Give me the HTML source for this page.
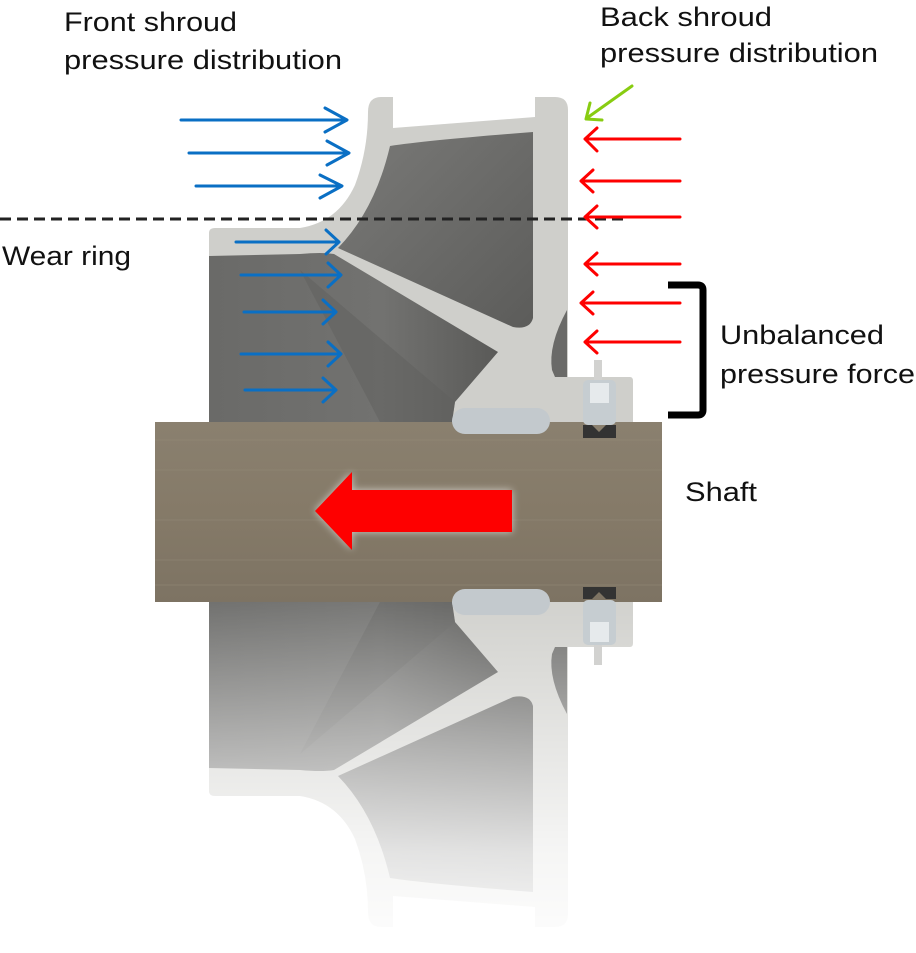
<!DOCTYPE html>
<html><head><meta charset="utf-8"><style>
html,body{margin:0;padding:0;background:#fff;}
svg{display:block;}
text{font-family:"Liberation Sans",Arial,sans-serif;font-size:27px;fill:#111;}
</style></head><body>
<svg width="916" height="953" viewBox="0 0 916 953" xmlns="http://www.w3.org/2000/svg">
<defs>
<linearGradient id="dk" x1="0" y1="0" x2="1" y2="1">
<stop offset="0" stop-color="#7a7a78"/><stop offset="1" stop-color="#5c5c5a"/></linearGradient>
<linearGradient id="dk2" x1="0" y1="0" x2="1" y2="0">
<stop offset="0" stop-color="#6a6a68"/><stop offset="0.6" stop-color="#727270"/><stop offset="1" stop-color="#5a5a58"/></linearGradient>
<linearGradient id="shaft" x1="0" y1="0" x2="0" y2="1">
<stop offset="0" stop-color="#8a806f"/><stop offset="0.5" stop-color="#857a68"/><stop offset="1" stop-color="#7d7363"/></linearGradient>
<linearGradient id="fade" x1="0" y1="602" x2="0" y2="935" gradientUnits="userSpaceOnUse">
<stop offset="0" stop-color="#fff" stop-opacity="0.95"/><stop offset="0.35" stop-color="#fff" stop-opacity="0.6"/><stop offset="0.75" stop-color="#fff" stop-opacity="0.2"/><stop offset="1" stop-color="#fff" stop-opacity="0.06"/></linearGradient>
<mask id="m"><rect x="0" y="590" width="916" height="363" fill="url(#fade)"/></mask>
<filter id="glow" x="-20%" y="-50%" width="140%" height="200%"><feGaussianBlur stdDeviation="4"/></filter>
<g id="imp">
<path d="M209,422 L209,233 Q209,228 215,228 L300,228 Q338,222 355,185 Q368,150 368,112 Q368,97 381,97 L393,97 L393,128 L535,117 L535,97 L555,97 Q568,97 568,110 L568,377 L630,377 Q633,377 633,381 L633,422 Z" fill="#cfcfcb"/>
<path d="M390,146 Q430,140 533,132 L533,318 Q530,330 513,327 L338,248 Q375,210 390,146 Z" fill="url(#dk)"/>
<path d="M209,256 L300,254 Q322,252 334,254 L498,352 L455,402 L452,422 L209,422 Z" fill="url(#dk2)"/>
<path d="M300,270 L455,402 L452,422 L380,422 Z" fill="#5f5f5d" opacity="0.5"/>
<path d="M552,370 Q548,345 567,310 L567,377 L555,377 Z" fill="#6a6a68"/>
</g>
</defs>

<use href="#imp"/>
<g mask="url(#m)"><use href="#imp" transform="translate(0,1024) scale(1,-1)"/></g>

<rect x="155" y="422" width="507" height="180" fill="url(#shaft)"/>
<g stroke="#938a78" stroke-width="1" opacity="0.5">
<line x1="155" y1="440" x2="662" y2="440"/><line x1="155" y1="470" x2="662" y2="470"/><line x1="155" y1="520" x2="662" y2="520"/><line x1="155" y1="560" x2="662" y2="560"/><line x1="155" y1="585" x2="662" y2="585"/></g>

<rect x="452" y="408" width="98" height="26" rx="13" fill="#c3c9cd"/>
<rect x="452" y="589" width="98" height="26" rx="13" fill="#c3c9cd"/>
<rect x="594" y="360" width="8" height="20" fill="#d2d2d0"/>
<rect x="583" y="380" width="33" height="45" rx="5" fill="#c6cdd1"/>
<rect x="590" y="383" width="19" height="20" fill="#e6eaec"/>
<path d="M583,425 L592,425 L599,432 L606,425 L616,425 L616,438 L583,438 Z" fill="#333"/>
<rect x="594" y="645" width="8" height="20" fill="#d2d2d0"/>
<rect x="583" y="600" width="33" height="45" rx="5" fill="#c6cdd1"/>
<rect x="590" y="622" width="19" height="20" fill="#e6eaec"/>
<path d="M583,599 L592,599 L599,592 L606,599 L616,599 L616,587 L583,587 Z" fill="#333"/>

<path d="M315,511 L352,472 L352,490 L512,490 L512,532 L352,532 L352,550 Z" fill="#fff" opacity="0.6" filter="url(#glow)"/>
<path d="M315,511 L352,472 L352,490 L512,490 L512,532 L352,532 L352,550 Z" fill="#fe0000"/>

<line x1="0" y1="219" x2="628" y2="219" stroke="#222" stroke-width="3" stroke-dasharray="11,6"/>

<g stroke="#0a6fc4" stroke-width="3" fill="none" stroke-linecap="round" stroke-linejoin="round">
<path d="M181,120 H346 M325,108 L347,120 L325,132"/>
<path d="M189,153 H348 M327,141 L349,153 L327,165"/>
<path d="M196,186 H341 M320,175 L342,186 L320,198"/>
<path d="M236,242 H339 M326,230 L339,242 L326,254"/>
<path d="M241,275 H340 M328,263 L341,275 L328,287"/>
<path d="M244,312 H336 M323,300 L336,312 L323,324"/>
<path d="M241,354 H340 M328,342 L341,354 L328,366"/>
<path d="M245,390 H336 M323,378 L336,390 L323,402"/>
</g>
<g stroke="#fe0000" stroke-width="3" fill="none" stroke-linecap="round" stroke-linejoin="round">
<path d="M680,139 H585 M597,128 L585,139 L597,151"/>
<path d="M680,181 H581 M593,170 L581,181 L593,192"/>
<path d="M680,217 H585 M597,206 L585,217 L597,228"/>
<path d="M680,264 H585 M597,253 L585,264 L597,275"/>
<path d="M680,303 H581 M593,292 L581,303 L593,314"/>
<path d="M680,342 H585 M597,331 L585,342 L597,353"/>
</g>
<g stroke="#88cc11" stroke-width="3" fill="none" stroke-linecap="round" stroke-linejoin="round">
<path d="M632,86 L587,118 M590,103 L586,119 L602,120"/>
</g>
<path d="M668,285 H698 Q703,285 703,290 V410 Q703,415 698,415 H668" stroke="#000" stroke-width="7" fill="none"/>

<text x="64" y="31" textLength="173" lengthAdjust="spacingAndGlyphs">Front shroud</text>
<text x="64" y="69" textLength="278" lengthAdjust="spacingAndGlyphs">pressure distribution</text>
<text x="600" y="26" textLength="172" lengthAdjust="spacingAndGlyphs">Back shroud</text>
<text x="600" y="62" textLength="278" lengthAdjust="spacingAndGlyphs">pressure distribution</text>
<text x="2" y="265" textLength="129" lengthAdjust="spacingAndGlyphs">Wear ring</text>
<text x="720" y="344" textLength="164" lengthAdjust="spacingAndGlyphs">Unbalanced</text>
<text x="720" y="383" textLength="195" lengthAdjust="spacingAndGlyphs">pressure force</text>
<text x="685" y="501" textLength="72" lengthAdjust="spacingAndGlyphs">Shaft</text>
</svg>
</body></html>
